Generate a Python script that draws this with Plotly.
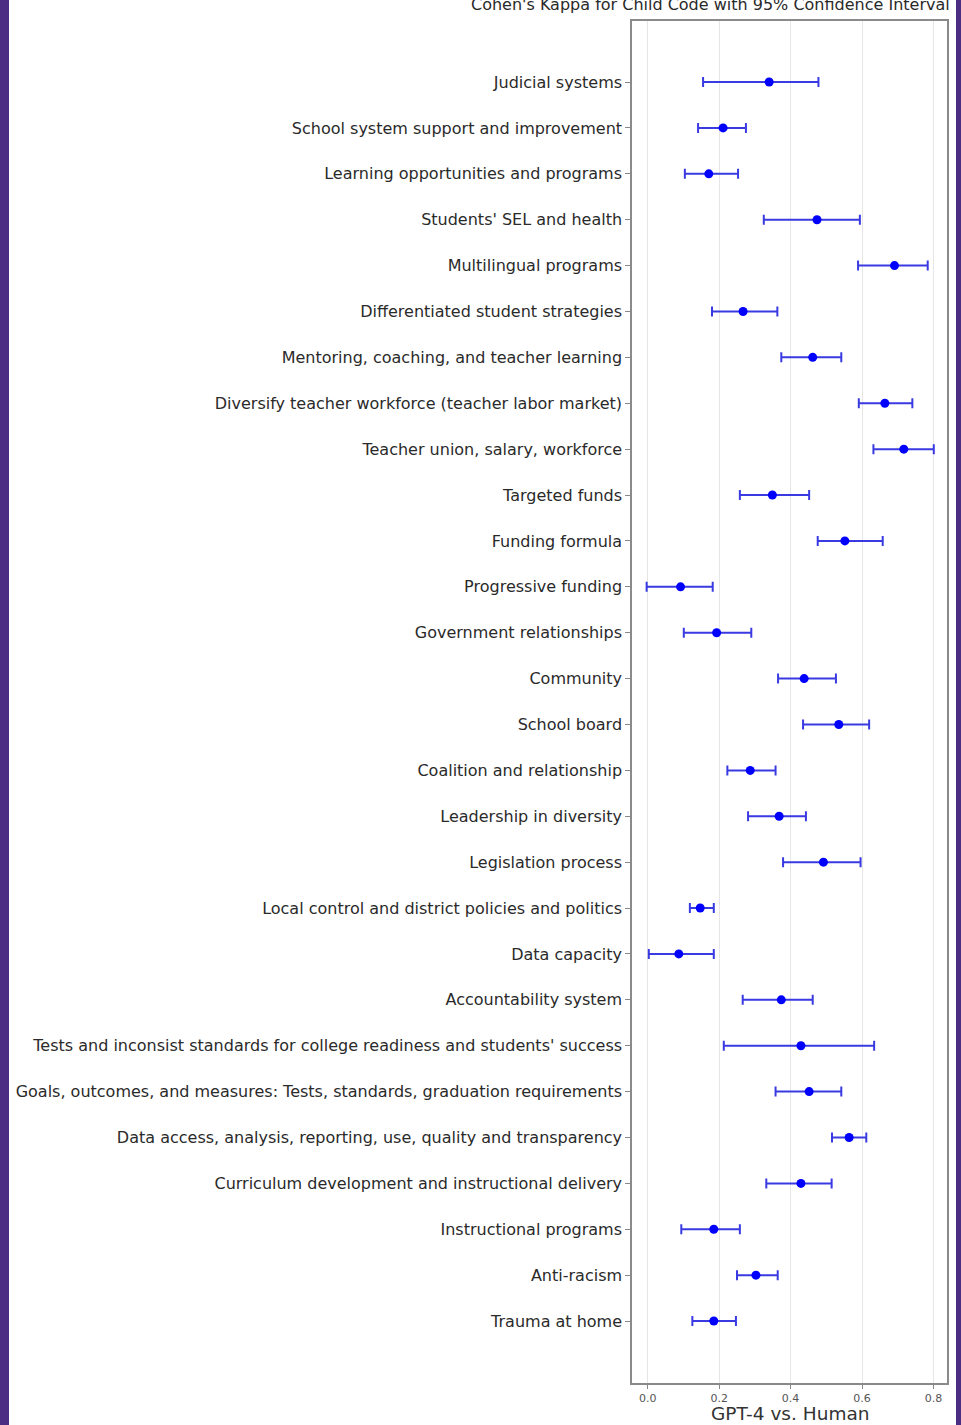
import plotly.graph_objects as go

# Child codes, top to bottom
codes = [
    "Judicial systems",
    "School system support and improvement",
    "Learning opportunities and programs",
    "Students' SEL and health",
    "Multilingual programs",
    "Differentiated student strategies",
    "Mentoring, coaching, and teacher learning",
    "Diversify teacher workforce (teacher labor market)",
    "Teacher union, salary, workforce",
    "Targeted funds",
    "Funding formula",
    "Progressive funding",
    "Government relationships",
    "Community",
    "School board",
    "Coalition and relationship",
    "Leadership in diversity",
    "Legislation process",
    "Local control and district policies and politics",
    "Data capacity",
    "Accountability system",
    "Tests and inconsist standards for college readiness and students' success",
    "Goals, outcomes, and measures: Tests, standards, graduation requirements",
    "Data access, analysis, reporting, use, quality and transparency",
    "Curriculum development and instructional delivery",
    "Instructional programs",
    "Anti-racism",
    "Trauma at home",
]

# Cohen's kappa estimates (GPT-4 vs. Human)
kappa = [0.340, 0.211, 0.171, 0.474, 0.691, 0.267, 0.462, 0.664, 0.717, 0.349,
         0.552, 0.092, 0.193, 0.438, 0.535, 0.287, 0.368, 0.492, 0.147, 0.087,
         0.374, 0.429, 0.452, 0.564, 0.429, 0.185, 0.303, 0.185]

# 95% confidence interval bounds
ci_low = [0.155, 0.141, 0.104, 0.325, 0.589, 0.180, 0.374, 0.591, 0.632, 0.258,
          0.476, -0.003, 0.101, 0.365, 0.435, 0.223, 0.281, 0.379, 0.118, 0.003,
          0.266, 0.213, 0.358, 0.516, 0.332, 0.094, 0.250, 0.125]
ci_high = [0.478, 0.275, 0.253, 0.594, 0.784, 0.363, 0.542, 0.741, 0.801, 0.452,
           0.658, 0.182, 0.290, 0.527, 0.620, 0.358, 0.443, 0.596, 0.185, 0.185,
           0.462, 0.634, 0.542, 0.612, 0.515, 0.258, 0.364, 0.247]

x_ticks = [0.0, 0.2, 0.4, 0.6, 0.8]

W, H = 961, 1425
M_L, M_R, M_T, M_B = 632, 14, 21, 42
plot_w = W - M_L - M_R
plot_h = H - M_T - M_B

def px_to_paper_x(px):
    return (px - M_L) / plot_w

def px_to_paper_y(py):
    return (H - M_B - py) / plot_h

err_plus = [h - k for h, k in zip(ci_high, kappa)]
err_minus = [k - l for k, l in zip(kappa, ci_low)]

fig = go.Figure()
fig.add_trace(go.Scatter(
    x=kappa,
    y=codes,
    mode="markers",
    marker=dict(color="#0000ff", size=9),
    error_x=dict(
        type="data",
        symmetric=False,
        array=err_plus,
        arrayminus=err_minus,
        color="#3a3ae2",
        thickness=2,
        width=5,
    ),
    showlegend=False,
))

n = len(codes)
fig.update_layout(
    width=W,
    height=H,
    margin=dict(l=M_L, r=M_R, t=M_T, b=M_B, pad=0),
    paper_bgcolor="white",
    plot_bgcolor="white",
    font=dict(family="DejaVu Sans", color="#2a2a2a"),
    xaxis=dict(
        range=[-0.044, 0.838],
        tickvals=x_ticks,
        ticktext=[f"{v:.1f}" for v in x_ticks],
        tickfont=dict(size=11, color="#555555"),
        ticks="outside",
        ticklen=4,
        tickcolor="#888888",
        showgrid=True,
        gridcolor="#e6e6e6",
        gridwidth=1,
        zeroline=False,
        showline=True,
        linecolor="#8a8a8a",
        linewidth=1.5,
        mirror=True,
        automargin=False,
    ),
    yaxis=dict(
        type="category",
        categoryorder="array",
        categoryarray=codes,
        range=[n - 1 + 1.35, -1.33],
        tickfont=dict(size=16, color="#2a2a2a"),
        ticks="outside",
        ticklen=5,
        tickcolor="#888888",
        showgrid=False,
        zeroline=False,
        showline=True,
        linecolor="#8a8a8a",
        linewidth=1.5,
        mirror=True,
        automargin=False,
    ),
    shapes=[
        dict(type="rect", xref="paper", yref="paper",
             x0=px_to_paper_x(0), x1=px_to_paper_x(9), y0=-1, y1=2,
             fillcolor="#4b2d83", line=dict(width=0), layer="above"),
        dict(type="rect", xref="paper", yref="paper",
             x0=px_to_paper_x(956), x1=px_to_paper_x(W + 2), y0=-1, y1=2,
             fillcolor="#4b2d83", line=dict(width=0), layer="above"),
    ],
    annotations=[
        dict(text="Cohen's Kappa for Child Code with 95% Confidence Interval",
             xref="paper", yref="paper",
             x=px_to_paper_x(710), y=px_to_paper_y(4),
             xanchor="center", yanchor="middle", showarrow=False,
             font=dict(size=16, color="#2a2a2a")),
        dict(text="GPT-4 vs. Human",
             xref="paper", yref="paper",
             x=px_to_paper_x(790), y=px_to_paper_y(1413),
             xanchor="center", yanchor="middle", showarrow=False,
             font=dict(size=18.5, color="#333333")),
    ],
)

fig.write_html("out.html")
